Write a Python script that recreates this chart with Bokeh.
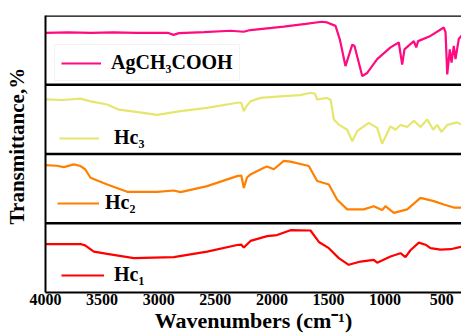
from bokeh.plotting import figure
from bokeh.models import Legend, LegendItem, Span, FixedTicker, Range1d, ColumnDataSource
from bokeh.embed import file_html
from bokeh.resources import INLINE

# ---- data (band-local transmittance, 0-100 within each panel) ----
wn_ag = [4000, 3800, 3600, 3400, 3200, 3000, 2920, 2869, 2820, 2600, 2366, 2250, 2189, 2000, 1895,
         1700, 1560, 1512, 1438, 1400, 1350, 1290, 1270, 1202, 1158, 1070, 952, 879, 849, 829,
         746, 725, 708, 599, 481, 466, 451, 428, 413, 393, 378, 349, 325]
tr_ag = [75, 75.5, 75, 75.5, 75, 75, 75, 72, 74.5, 76, 78, 76.5, 79, 82, 84,
         88, 91, 90, 85, 65.6, 27, 58, 56, 12.6, 17, 37, 54, 61, 29, 51,
         63, 54, 63, 70.5, 82.6, 76, 15, 51, 32, 56, 37, 66, 71]

wn_hc3 = [4000, 3850, 3691, 3600, 3455, 3352, 3249, 3013, 2807, 2572, 2307, 2270, 2248, 2220, 2189,
          2101, 1895, 1750, 1659, 1620, 1600, 1512, 1480, 1453, 1409, 1335, 1290, 1247, 1144, 1070,
          1026, 952, 908, 864, 805, 746, 687, 628, 575, 540, 502, 451, 363, 325]
tr_hc3 = [79, 78, 80, 76, 71.5, 64, 62, 56.5, 62, 66.7, 74, 74, 62, 70, 76,
          81, 83.6, 85, 88.4, 87, 78.7, 81, 78, 49.7, 42.5, 35, 18.4, 33, 45, 37.7,
          15, 40, 35, 42, 39, 48, 39, 50, 35, 42, 32, 42, 45.6, 42]

wn_hc2 = [4000, 3900, 3838, 3750, 3691, 3650, 3602, 3455, 3278, 3013, 2867, 2807, 2572, 2307, 2270,
          2248, 2220, 2189, 2071, 2042, 1983, 1895, 1836, 1674, 1600, 1497, 1423, 1335, 1188, 1100,
          1026, 997, 923, 805, 687, 570, 481, 393, 325]
tr_hc2 = [84, 83, 81, 85, 82.6, 78, 65.7, 56, 45.4, 45.4, 47.3, 45, 53.6, 68, 69,
          51, 66, 70.5, 80, 82, 78, 90, 89, 82.6, 61, 56, 34, 20, 20, 24.6,
          19, 24.6, 15, 20, 36.7, 32, 27, 22.7, 22.7]

wn_hc1 = [4000, 3691, 3650, 3573, 3455, 3220, 2867, 2572, 2307, 2270, 2248, 2189, 2042, 1954, 1836,
          1659, 1585, 1497, 1409, 1321, 1217, 1100, 1070, 952, 864, 820, 776, 702, 643, 599,
          511, 422, 325]
tr_hc1 = [70, 70, 68, 59, 55.7, 49.6, 51, 59, 68.6, 69, 65, 74.5, 81.4, 82.9, 90,
          89.5, 73, 64, 49.6, 40, 44.7, 47, 43, 52, 56.7, 51, 61, 72, 69, 64,
          62, 62.5, 66]

series_names = ["Hc₁", "Hc₂", "Hc₃", "AgCH₃COOH"]
series_colors = ["#FF0000", "#FF8000", "#E6E66E", "#FF0A80"]
x_ticks = [4000, 3500, 3000, 2500, 2000, 1500, 1000, 500]

FONT = "Liberation Serif"

p = figure(width=461, height=336, x_range=Range1d(4000, 325), y_range=Range1d(0, 400),
           output_backend="svg", toolbar_location=None,
           min_border_left=45, min_border_right=0, min_border_top=15, min_border_bottom=44)
p.outline_line_color = None
p.grid.visible = False

p.xaxis.ticker = FixedTicker(ticks=x_ticks)
p.xaxis.major_tick_line_color = None
p.xaxis.minor_tick_line_color = None
p.xaxis.major_tick_out = 0
p.xaxis.major_tick_in = 0
p.xaxis.axis_line_width = 2
p.xaxis.axis_line_color = "black"
p.xaxis.major_label_text_font = FONT
p.xaxis.major_label_text_font_style = "bold"
p.xaxis.major_label_text_font_size = "16px"
p.xaxis.major_label_text_color = "black"
p.xaxis.major_label_standoff = 1
p.xaxis.axis_label = "Wavenumbers (cm⁻¹)"
p.xaxis.axis_label_text_font = FONT
p.xaxis.axis_label_text_font_style = "bold"
p.xaxis.axis_label_text_font_size = "22px"
p.xaxis.axis_label_text_color = "black"
p.xaxis.axis_label_standoff = 0

p.yaxis.ticker = FixedTicker(ticks=[])
p.yaxis.major_tick_line_color = None
p.yaxis.minor_tick_line_color = None
p.yaxis.axis_line_width = 2
p.yaxis.axis_line_color = "black"
p.yaxis.axis_label = "\u00a0\u00a0\u00a0Transmittance,%"
p.yaxis.axis_label_text_font = FONT
p.yaxis.axis_label_text_font_style = "bold"
p.yaxis.axis_label_text_font_size = "21px"
p.yaxis.axis_label_text_color = "black"
p.yaxis.axis_label_standoff = 17

datasets = [(wn_hc1, tr_hc1), (wn_hc2, tr_hc2), (wn_hc3, tr_hc3), (wn_ag, tr_ag)]
renderers = []
for i, (wn, tr) in enumerate(datasets):
    src = ColumnDataSource(dict(x=wn, y=[v + 100 * i for v in tr]))
    r = p.line("x", "y", source=src, line_color=series_colors[i], line_width=2.2)
    renderers.append(r)

for loc in [100, 200, 300, 400]:
    p.add_layout(Span(location=loc, dimension="width", line_color="black", line_width=2.5))

legend_locs = [(16, 6), (12, 78), (14, 143), (9, 211)]
legend_pad = [2, 2, 2, 6]
legend_standoff = [10, 6, 15, 10]
legend_glyph_w = [43, 42, 40, 40]
legend_bg_alpha = [1.0, 0.0, 1.0, 1.0]
for i, r in enumerate(renderers):
    lg = Legend(items=[LegendItem(label=series_names[i], renderers=[r])],
                location=legend_locs[i], glyph_width=legend_glyph_w[i],
                label_standoff=legend_standoff[i],
                padding=legend_pad[i], spacing=0, margin=0,
                label_text_font=FONT, label_text_font_style="bold",
                label_text_font_size="20px", label_text_color="black",
                border_line_color="#e8e8e8" if i == 3 else None,
                background_fill_color="white", background_fill_alpha=legend_bg_alpha[i])
    p.add_layout(lg, "center")

open("out.html", "w").write(file_html(p, INLINE))
